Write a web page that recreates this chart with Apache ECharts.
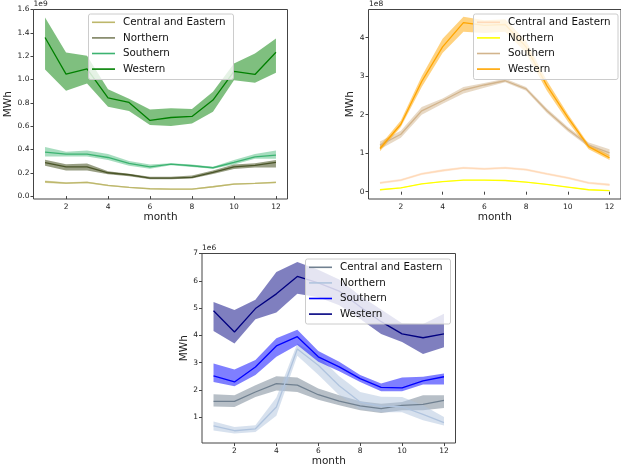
<!DOCTYPE html>
<html>
<head>
<meta charset="utf-8">
<script src="https://cdn.jsdelivr.net/npm/echarts@6/dist/echarts.min.js"></script>
<style>
  html, body { margin: 0; padding: 0; background: #fff; }
  #chart { width: 621px; height: 472px; }
</style>
</head>
<body>
<div id="chart"></div>
<script>
var months = [1, 2, 3, 4, 5, 6, 7, 8, 9, 10, 11, 12]
var regions = ['Central and Eastern', 'Northern', 'Southern', 'Western']
var xTicks = [2, 4, 6, 8, 10, 12]

// top left panel, units of 1e9 MWh
var tlTicks = [0, 0.2, 0.4, 0.6, 0.8, 1.0, 1.2, 1.4, 1.6]
var tlCentral = [0.123, 0.111, 0.117, 0.091, 0.074, 0.063, 0.060, 0.060, 0.080, 0.103, 0.109, 0.117]
var tlCentralLo = [0.113, 0.104, 0.110, 0.085, 0.069, 0.058, 0.055, 0.055, 0.074, 0.097, 0.103, 0.110]
var tlCentralHi = [0.134, 0.118, 0.124, 0.097, 0.079, 0.068, 0.065, 0.065, 0.086, 0.109, 0.115, 0.125]
var tlNorthern = [0.286, 0.251, 0.251, 0.200, 0.183, 0.154, 0.154, 0.160, 0.203, 0.251, 0.263, 0.289]
var tlNorthernLo = [0.260, 0.220, 0.220, 0.188, 0.170, 0.145, 0.145, 0.150, 0.190, 0.232, 0.245, 0.245]
var tlNorthernHi = [0.312, 0.272, 0.280, 0.212, 0.192, 0.165, 0.165, 0.177, 0.220, 0.270, 0.282, 0.310]
var tlSouthern = [0.377, 0.360, 0.360, 0.331, 0.280, 0.251, 0.274, 0.260, 0.243, 0.289, 0.337, 0.351]
var tlSouthernLo = [0.340, 0.340, 0.340, 0.310, 0.260, 0.235, 0.265, 0.250, 0.235, 0.270, 0.320, 0.320]
var tlSouthernHi = [0.420, 0.380, 0.390, 0.360, 0.300, 0.270, 0.282, 0.270, 0.252, 0.310, 0.360, 0.390]
var tlWestern = [1.360, 1.046, 1.090, 0.843, 0.803, 0.649, 0.674, 0.683, 0.823, 1.069, 1.043, 1.234]
var tlWesternLo = [1.086, 0.903, 0.966, 0.766, 0.729, 0.609, 0.600, 0.623, 0.723, 0.994, 0.971, 1.057]
var tlWesternHi = [1.531, 1.231, 1.203, 0.917, 0.834, 0.743, 0.754, 0.746, 0.894, 1.137, 1.223, 1.351]

// top right panel, units of 1e8 MWh
var trTicks = [0, 1, 2, 3, 4]
var trCentral = [0.23, 0.30, 0.46, 0.55, 0.62, 0.59, 0.62, 0.575, 0.46, 0.36, 0.23, 0.18]
var trCentralLo = [0.20, 0.27, 0.43, 0.52, 0.59, 0.56, 0.59, 0.545, 0.43, 0.33, 0.20, 0.15]
var trCentralHi = [0.26, 0.33, 0.49, 0.58, 0.65, 0.62, 0.65, 0.605, 0.49, 0.39, 0.26, 0.21]
var trNorthern = [0.05, 0.10, 0.20, 0.26, 0.30, 0.30, 0.29, 0.25, 0.19, 0.12, 0.05, 0.03]
var trNorthernLo = [0.04, 0.09, 0.19, 0.25, 0.29, 0.29, 0.28, 0.24, 0.18, 0.11, 0.04, 0.02]
var trNorthernHi = [0.06, 0.11, 0.21, 0.27, 0.31, 0.31, 0.30, 0.26, 0.20, 0.13, 0.06, 0.04]
var trSouthern = [1.21, 1.49, 2.10, 2.36, 2.64, 2.77, 2.88, 2.67, 2.10, 1.62, 1.21, 1.01]
var trSouthernLo = [1.10, 1.40, 2.00, 2.28, 2.55, 2.70, 2.84, 2.62, 2.04, 1.56, 1.16, 0.92]
var trSouthernHi = [1.30, 1.58, 2.20, 2.42, 2.72, 2.82, 2.93, 2.72, 2.16, 1.68, 1.28, 1.10]
var trWestern = [1.12, 1.75, 2.86, 3.76, 4.39, 4.32, 4.34, 3.76, 2.75, 1.93, 1.17, 0.88]
var trWesternLo = [1.05, 1.68, 2.72, 3.60, 4.15, 4.12, 4.15, 3.60, 2.62, 1.82, 1.10, 0.82]
var trWesternHi = [1.20, 1.85, 3.00, 3.97, 4.54, 4.45, 4.48, 3.92, 2.88, 2.02, 1.23, 0.95]

// bottom panel, units of 1e6 MWh
var btTicks = [1, 2, 3, 4, 5, 6, 7]
var btCentral = [1.58, 1.58, 1.92, 2.23, 2.17, 1.82, 1.59, 1.41, 1.31, 1.43, 1.47, 1.61]
var btCentralLo = [1.39, 1.37, 1.74, 1.98, 1.92, 1.64, 1.43, 1.25, 1.15, 1.25, 1.25, 1.33]
var btCentralHi = [1.84, 1.80, 2.17, 2.50, 2.45, 2.05, 1.80, 1.58, 1.49, 1.55, 1.80, 1.80]
var btNorthern = [0.68, 0.50, 0.57, 1.37, 3.50, 2.90, 2.15, 1.55, 1.40, 1.38, 1.10, 0.80]
var btNorthernLo = [0.51, 0.40, 0.45, 1.05, 3.25, 2.55, 1.80, 1.30, 1.18, 1.18, 0.88, 0.69]
var btNorthernHi = [0.84, 0.64, 0.70, 1.72, 3.70, 3.25, 2.50, 1.92, 1.75, 1.74, 1.43, 1.00]
var btSouthern = [2.51, 2.29, 2.84, 3.61, 3.95, 3.21, 2.84, 2.41, 2.09, 2.07, 2.33, 2.48]
var btSouthernLo = [2.29, 2.13, 2.54, 3.21, 3.64, 3.03, 2.68, 2.29, 1.95, 1.95, 2.20, 2.20]
var btSouthernHi = [2.97, 2.75, 3.09, 3.89, 4.20, 3.42, 3.03, 2.54, 2.23, 2.45, 2.48, 2.60]
var btWestern = [4.90, 4.12, 4.98, 5.52, 6.16, 5.92, 5.62, 5.05, 4.50, 4.05, 3.91, 4.05]
var btWesternLo = [4.16, 3.70, 4.59, 4.84, 5.52, 5.40, 5.10, 4.60, 4.05, 3.75, 3.31, 3.56]
var btWesternHi = [5.22, 4.93, 5.30, 6.32, 6.69, 6.40, 6.05, 5.45, 4.95, 4.44, 4.41, 4.79]

var FONT = 'DejaVu Sans'
var TEXT = '#222'

var chart = echarts.init(document.getElementById('chart'), null, { renderer: 'canvas' })

function pairs (vals) {
  return months.map(function (m, i) { return [m, vals[i]] })
}

// confidence band as one polygon (custom series) + mean line
function regionSeries (idx, key, mean, lo, hi, lineColor, bandColor) {
  return [
    {
      type: 'custom', xAxisIndex: idx, yAxisIndex: idx,
      data: [[months[0], lo[0]]], silent: true, z: 1,
      renderItem: function (params, api) {
        var pts = []
        var i
        for (i = 0; i < months.length; i++) pts.push(api.coord([months[i], hi[i]]))
        for (i = months.length - 1; i >= 0; i--) pts.push(api.coord([months[i], lo[i]]))
        return { type: 'polygon', shape: { points: pts }, style: { fill: bandColor } }
      }
    },
    {
      type: 'line', name: key, xAxisIndex: idx, yAxisIndex: idx,
      data: pairs(mean), showSymbol: false, silent: true, z: 3,
      lineStyle: { color: lineColor, width: 1.3 }
    }
  ]
}

function xAxisOf (idx, nameGap) {
  return {
    type: 'value', gridIndex: idx, min: 0.45, max: 12.55,
    name: 'month', nameLocation: 'middle', nameGap: nameGap,
    nameTextStyle: { fontFamily: FONT, fontSize: 10.5, color: TEXT },
    axisLine: { show: false },
    splitLine: { show: false },
    axisTick: { show: true, length: 3, lineStyle: { color: '#444' }, customValues: xTicks },
    axisLabel: { fontFamily: FONT, fontSize: 7.5, color: TEXT, margin: 4, customValues: xTicks }
  }
}

function yAxisOf (idx, min, max, ticks, digits, nameGap) {
  return {
    type: 'value', gridIndex: idx, min: min, max: max,
    name: 'MWh', nameLocation: 'middle', nameGap: nameGap,
    nameTextStyle: { fontFamily: FONT, fontSize: 10.5, color: TEXT },
    axisLine: { show: false },
    splitLine: { show: false },
    axisTick: { show: true, length: 3, lineStyle: { color: '#444' }, customValues: ticks },
    axisLabel: {
      fontFamily: FONT, fontSize: 7.5, color: TEXT, margin: 4, customValues: ticks,
      formatter: function (v) { return v.toFixed(digits) }
    }
  }
}

// matplotlib style legend box drawn on top of the plot
function legendBox (x, y, w, h, colors) {
  var els = [{
    type: 'rect', z: 100,
    shape: { x: x, y: y, width: w, height: h, r: 2 },
    style: { fill: 'rgba(255,255,255,0.8)', stroke: '#cccccc', lineWidth: 1 }
  }]
  regions.forEach(function (name, i) {
    var ry = y + 8.3 + i * 15.6
    els.push({
      type: 'line', z: 101,
      shape: { x1: x + 3.5, y1: ry, x2: x + 26.5, y2: ry },
      style: { stroke: colors[i], lineWidth: 1.6 }
    })
    els.push({
      type: 'text', z: 101, x: x + 34.5, y: ry,
      style: { text: name, fontFamily: FONT, fontSize: 10.3, fill: '#111', verticalAlign: 'middle' }
    })
  })
  return els
}

function offsetText (x, y, txt) {
  return {
    type: 'text', x: x, y: y, z: 100,
    style: { text: txt, fontFamily: FONT, fontSize: 7.5, fill: TEXT }
  }
}

var tlColors = ['#bdb76b', '#7d8260', '#3cb371', '#008000']
var trColors = ['#ffdab9', '#ffff00', '#d2b48c', '#ffa500']
var btColors = ['#708090', '#b0c4de', '#0000ff', '#000080']

var series = [].concat(
  regionSeries(0, 'Central and Eastern', tlCentral, tlCentralLo, tlCentralHi, '#bdb76b', 'rgba(189,183,107,0.5)'),
  regionSeries(0, 'Northern', tlNorthern, tlNorthernLo, tlNorthernHi, '#4a5528', 'rgba(85,95,50,0.6)'),
  regionSeries(0, 'Southern', tlSouthern, tlSouthernLo, tlSouthernHi, '#3cb371', 'rgba(60,179,113,0.45)'),
  regionSeries(0, 'Western', tlWestern, tlWesternLo, tlWesternHi, '#008000', 'rgba(0,128,0,0.5)'),

  regionSeries(1, 'Central and Eastern', trCentral, trCentralLo, trCentralHi, '#ffdab9', 'rgba(255,218,185,0.5)'),
  regionSeries(1, 'Northern', trNorthern, trNorthernLo, trNorthernHi, '#ffff00', 'rgba(255,255,0,0.5)'),
  regionSeries(1, 'Southern', trSouthern, trSouthernLo, trSouthernHi, '#d2b48c', 'rgba(210,180,140,0.5)'),
  regionSeries(1, 'Western', trWestern, trWesternLo, trWesternHi, '#ffa500', 'rgba(255,165,0,0.5)'),

  regionSeries(2, 'Central and Eastern', btCentral, btCentralLo, btCentralHi, '#708090', 'rgba(112,128,144,0.5)'),
  regionSeries(2, 'Northern', btNorthern, btNorthernLo, btNorthernHi, '#b0c4de', 'rgba(176,196,222,0.5)'),
  regionSeries(2, 'Southern', btSouthern, btSouthernLo, btSouthernHi, '#0000ff', 'rgba(0,0,255,0.5)'),
  regionSeries(2, 'Western', btWestern, btWesternLo, btWesternHi, '#000080', 'rgba(0,0,128,0.5)')
)

var gridBase = { show: true, borderColor: '#444', borderWidth: 1, backgroundColor: 'transparent', containLabel: false }

var option = {
  animation: false,
  backgroundColor: '#ffffff',
  grid: [
    Object.assign({ left: 33.5, top: 9.5, width: 254, height: 189.5 }, gridBase),
    Object.assign({ left: 368.5, top: 9.5, width: 254, height: 189.5 }, gridBase),
    Object.assign({ left: 202, top: 253.5, width: 253.5, height: 189.5 }, gridBase)
  ],
  xAxis: [xAxisOf(0, 12), xAxisOf(1, 12), xAxisOf(2, 13)],
  yAxis: [
    yAxisOf(0, -0.025, 1.6, tlTicks, 1, 17),
    yAxisOf(1, -0.19, 4.73, trTicks, 0, 11),
    yAxisOf(2, 0.05, 7.0, btTicks, 0, 12)
  ],
  graphic: [
    offsetText(33.5, 0, '1e9'),
    offsetText(369, 0, '1e8'),
    offsetText(202, 244, '1e6')
  ].concat(
    legendBox(88.5, 14, 145, 65.5, tlColors),
    legendBox(473.5, 14, 144.5, 65.5, trColors),
    legendBox(305.5, 259, 145, 65, btColors)
  ),
  series: series
}

chart.setOption(option)
</script>
</body>
</html>
